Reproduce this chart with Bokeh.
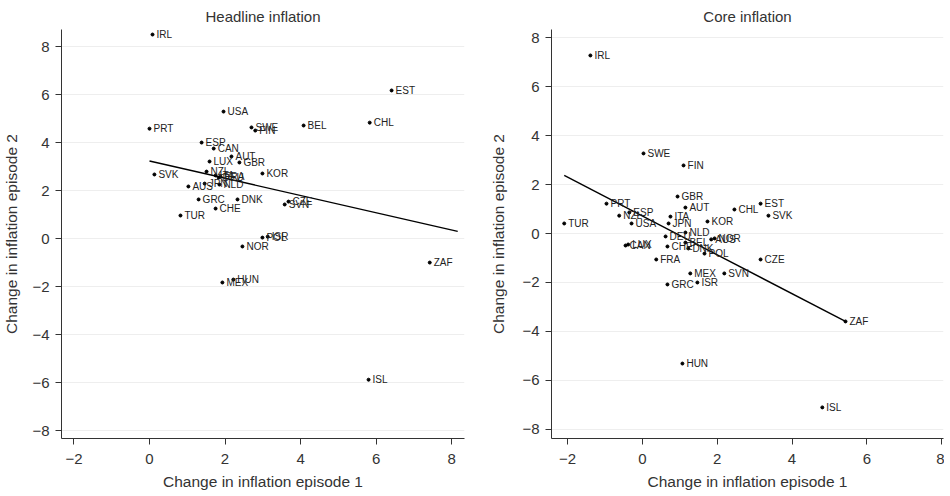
from bokeh.plotting import figure
from bokeh.layouts import row
from bokeh.models import ColumnDataSource, FixedTicker
from bokeh.embed import file_html
from bokeh.resources import INLINE
from bokeh.core.properties import value

# ---------------- Headline inflation ----------------
h_country = ["IRL", "EST", "CHL", "BEL", "USA", "PRT", "SWE", "FIN", "ESP", "CAN",
             "AUT", "LUX", "GBR", "NZL", "KOR", "SVK", "AUS", "ITA", "DEU", "FRA",
             "JPN", "NLD", "GRC", "DNK", "CHE", "TUR", "SVN", "CZE", "POL", "ISR",
             "NOR", "MEX", "HUN", "ZAF", "ISL"]
h_ep1 = [0.08, 6.41, 5.83, 4.08, 1.96, 0.00, 2.70, 2.80, 1.38, 1.70,
         2.17, 1.59, 2.38, 1.51, 2.99, 0.13, 1.03, 1.75, 1.83, 1.88,
         1.46, 1.85, 1.30, 2.33, 1.75, 0.82, 3.58, 3.68, 2.99, 3.13,
         2.46, 1.93, 2.22, 7.42, 5.80]
h_ep2 = [8.50, 6.17, 4.83, 4.71, 5.29, 4.58, 4.63, 4.50, 4.00, 3.75,
         3.42, 3.21, 3.17, 2.79, 2.71, 2.67, 2.17, 2.63, 2.54, 2.58,
         2.29, 2.25, 1.63, 1.63, 1.25, 0.96, 1.42, 1.54, 0.04, 0.08,
         -0.33, -1.83, -1.71, -1.00, -5.88]
h_fit_x = [0.00, 8.16]
h_fit_y = [3.23, 0.30]

# ---------------- Core inflation ----------------
c_country = ["IRL", "SWE", "FIN", "GBR", "EST", "PRT", "AUT", "CHL", "SVK", "NZL",
             "ESP", "ITA", "USA", "JPN", "KOR", "TUR", "DEU", "NLD", "AUS", "NOR",
             "CAN", "LUX", "CHE", "BEL", "DNK", "POL", "FRA", "CZE", "MEX", "SVN",
             "GRC", "ISR", "ZAF", "HUN", "ISL"]
c_ep1 = [-1.39, 0.03, 1.10, 0.94, 3.16, -0.96, 1.15, 2.46, 3.37, -0.62,
         -0.35, 0.75, -0.29, 0.70, 1.74, -2.09, 0.62, 1.15, 1.84, 1.93,
         -0.45, -0.38, 0.67, 1.15, 1.23, 1.66, 0.37, 3.16, 1.28, 2.19,
         0.67, 1.47, 5.43, 1.07, 4.81]
c_ep2 = [7.27, 3.27, 2.78, 1.51, 1.22, 1.22, 1.06, 0.98, 0.73, 0.73,
         0.86, 0.69, 0.41, 0.41, 0.49, 0.41, -0.12, 0.04, -0.24, -0.20,
         -0.49, -0.45, -0.53, -0.37, -0.61, -0.82, -1.06, -1.06, -1.63, -1.63,
         -2.08, -2.00, -3.59, -5.31, -7.10]
c_fit_x = [-2.09, 5.43]
c_fit_y = [2.37, -3.59]

x_ticks = [-2, 0, 2, 4, 6, 8]
y_ticks = [-8, -6, -4, -2, 0, 2, 4, 6, 8]

FONT = "Liberation Sans"


def make_panel(title, xs, ys, names, fx, fy, xr, yr, fw, bl, br, ylab_standoff):
    p = figure(frame_width=fw, frame_height=409, x_range=xr, y_range=yr,
               output_backend="svg", toolbar_location=None,
               min_border_left=bl, min_border_right=br,
               min_border_top=29, min_border_bottom=50,
               title=title)
    p.title.align = "center"
    p.title.text_font = FONT
    p.title.text_font_size = "15px"
    p.title.text_font_style = "normal"
    p.title.text_color = "#333333"
    p.title.standoff = 10
    p.outline_line_color = None
    p.background_fill_color = "white"
    p.xgrid.visible = False
    p.ygrid.grid_line_color = "#eeeeee"
    p.ygrid.grid_line_width = 1
    p.xaxis.ticker = FixedTicker(ticks=x_ticks)
    p.yaxis.ticker = FixedTicker(ticks=y_ticks)
    for ax in (p.xaxis[0], p.yaxis[0]):
        ax.axis_line_color = "#333333"
        ax.axis_line_width = 1
        ax.major_tick_line_color = "#333333"
        ax.major_tick_out = 6
        ax.major_tick_in = 0
        ax.minor_tick_line_color = None
        ax.major_label_text_font = FONT
        ax.major_label_text_font_size = "15px"
        ax.major_label_text_color = "#333333"
        ax.axis_label_text_font = FONT
        ax.axis_label_text_font_size = "15.5px"
        ax.axis_label_text_font_style = "normal"
        ax.axis_label_text_color = "#333333"
    p.xaxis.axis_label = "Change in inflation episode 1"
    p.yaxis.axis_label = "Change in inflation episode 2"
    p.yaxis.major_label_orientation = "horizontal"
    p.yaxis.axis_label_standoff = ylab_standoff
    p.xaxis.axis_label_standoff = 6
    p.xaxis.major_label_standoff = 9
    p.yaxis.major_label_standoff = 6

    src = ColumnDataSource(dict(x=xs, y=ys, name=names))
    p.line(fx, fy, line_color="black", line_width=1.4)
    p.scatter("x", "y", source=src, size=3, color="black")
    p.text("x", "y", text="name", source=src, x_offset=4,
           text_baseline="middle", text_font=value(FONT),
           text_font_size="10px", text_color="#222222")
    return p


p1 = make_panel("Headline inflation", h_ep1, h_ep2, h_country, h_fit_x, h_fit_y,
                (-2.33, 8.34), (-8.33, 8.71), 403, 51, 13, 9)
p2 = make_panel("Core inflation", c_ep1, c_ep2, c_country, c_fit_x, c_fit_y,
                (-2.43, 8.05), (-8.37, 8.33), 392, 74, 1, 12)

layout = row(p1, p2)
open("out.html", "w").write(file_html(layout, INLINE))
